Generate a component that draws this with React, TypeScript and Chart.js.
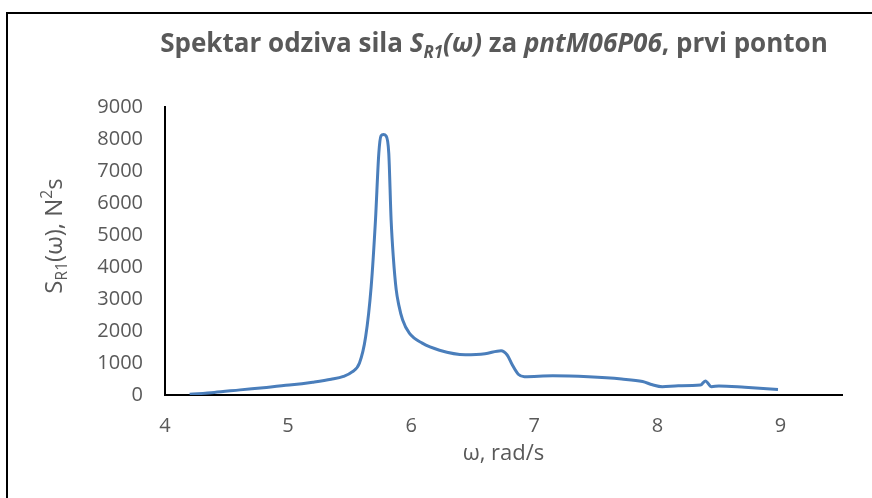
import React, { useEffect, useRef } from "react";
import { Chart, registerables } from "chart.js";

Chart.register(...registerables);

// Data
const omega: number[] = [
  4.2, 4.4, 4.61, 4.8, 5.01, 5.2, 5.35, 5.45, 5.52, 5.58, 5.63, 5.675, 5.71, 5.737,
  5.755, 5.775, 5.795, 5.818, 5.837, 5.855, 5.878, 5.9, 5.93, 5.985, 6.09, 6.23, 6.44, 6.6,
  6.73, 6.78, 6.82, 6.87, 6.92, 7.15, 7.44, 7.71, 7.88, 7.96, 8.04, 8.17, 8.35,
  8.39, 8.44, 8.5, 8.71, 8.98,
];
const sr1: number[] = [
  20, 80, 160, 230, 310, 400, 490, 580, 720, 1000, 1820, 3390, 5470, 7550,
  8100, 8140, 8100, 7550, 5470, 4300, 3300, 2800, 2350, 1930, 1620, 1400, 1260, 1290,
  1385, 1250, 950, 650, 570, 600, 570, 500, 420, 320, 260, 290, 310,
  440, 260, 280, 240, 175,
];
const xTicks: number[] = [4, 5, 6, 7, 8, 9];
const yTicks: number[] = [0, 1000, 2000, 3000, 4000, 5000, 6000, 7000, 8000, 9000];

const FONT = "'Open Sans', 'Noto Sans', sans-serif";
const TEXT_COLOR = "#595959";

type Seg = { t: string; b?: boolean; i?: boolean; sub?: boolean; sup?: boolean };

const titleSegs: Seg[] = [
  { t: "Spektar odziva sila ", b: true },
  { t: "S", b: true, i: true },
  { t: "R1", b: true, i: true, sub: true },
  { t: "(ω)", b: true, i: true },
  { t: " za ", b: true },
  { t: "pntM06P06", b: true, i: true },
  { t: ", prvi ponton", b: true },
];
const yTitleSegs: Seg[] = [
  { t: "S" },
  { t: "R1", sub: true },
  { t: "(ω), N" },
  { t: "2", sup: true },
  { t: "s" },
];
const xTitleSegs: Seg[] = [{ t: "ω, rad/s" }];

function segFont(s: Seg, size: number) {
  const sz = s.sub || s.sup ? size * 0.65 : size;
  return `${s.i ? "italic " : ""}${s.b ? "bold " : ""}${sz}px ${FONT}`;
}

function drawRich(ctx: CanvasRenderingContext2D, segs: Seg[], cx: number, baseline: number, size: number) {
  let total = 0;
  const widths = segs.map((s) => {
    ctx.font = segFont(s, size);
    const w = ctx.measureText(s.t).width;
    total += w;
    return w;
  });
  let x = cx - total / 2;
  ctx.textAlign = "left";
  ctx.textBaseline = "alphabetic";
  segs.forEach((s, k) => {
    ctx.font = segFont(s, size);
    let y = baseline;
    if (s.sub) y += size * 0.22;
    if (s.sup) y -= size * 0.4;
    ctx.fillText(s.t, x, y);
    x += widths[k];
  });
}

const textPlugin = {
  id: "richText",
  afterDraw(chart: any) {
    const ctx: CanvasRenderingContext2D = chart.ctx;
    const area = chart.chartArea;
    ctx.save();
    // outer frame (left and top visible)
    ctx.fillStyle = "#000";
    ctx.fillRect(6, 12, 872, 2);
    ctx.fillRect(6, 12, 2, 498);
    ctx.fillStyle = TEXT_COLOR;
    // title
    drawRich(ctx, titleSegs, 494, 52, 26);
    // x title
    drawRich(ctx, xTitleSegs, (area.left + area.right) / 2, 460, 22);
    // y title
    ctx.save();
    ctx.translate(62, 236);
    ctx.rotate(-Math.PI / 2);
    drawRich(ctx, yTitleSegs, 0, 0, 24);
    ctx.restore();
    ctx.restore();
  },
};

export default function App() {
  const ref = useRef<HTMLCanvasElement | null>(null);
  useEffect(() => {
    if (!ref.current) return;
    const chart = new Chart(ref.current, {
      type: "line",
      data: {
        datasets: [
          {
            data: omega.map((x, k) => ({ x, y: sr1[k] })),
            borderColor: "#4a7ebb",
            borderWidth: 3,
            pointRadius: 0,
            cubicInterpolationMode: "monotone",
            fill: false,
          },
        ],
      },
      options: {
        animation: false,
        responsive: true,
        maintainAspectRatio: false,
        layout: { padding: { left: 0, right: 30, top: 107, bottom: 0 } },
        plugins: { legend: { display: false }, tooltip: { enabled: false }, title: { display: false } },
        scales: {
          x: {
            type: "linear",
            min: 4,
            max: 9.5,
            grid: { display: false, drawTicks: false },
            border: { color: "#000", width: 2 },
            ticks: {
              color: TEXT_COLOR,
              font: { family: FONT, size: 20 },
              padding: 19,
              callback: (v: any) => String(v),
            },
            afterBuildTicks: (s: any) => {
              s.ticks = xTicks.map((v) => ({ value: v }));
            },
            afterFit: (s: any) => {
              s.height = 103;
            },
          },
          y: {
            type: "linear",
            min: 0,
            max: 9000,
            grid: { display: false, drawTicks: false },
            border: { color: "#000", width: 2 },
            ticks: {
              color: TEXT_COLOR,
              font: { family: FONT, size: 20 },
              padding: 22,
              callback: (v: any) => String(v),
            },
            afterBuildTicks: (s: any) => {
              s.ticks = yTicks.map((v) => ({ value: v }));
            },
            afterFit: (s: any) => {
              s.width = 165;
            },
          },
        },
      },
      plugins: [textPlugin],
    });
    return () => chart.destroy();
  }, []);
  return (
    <div style={{ position: "fixed", left: 0, top: 0, width: 872, height: 498, background: "#fff" }}>
      <canvas ref={ref} />
    </div>
  );
}
